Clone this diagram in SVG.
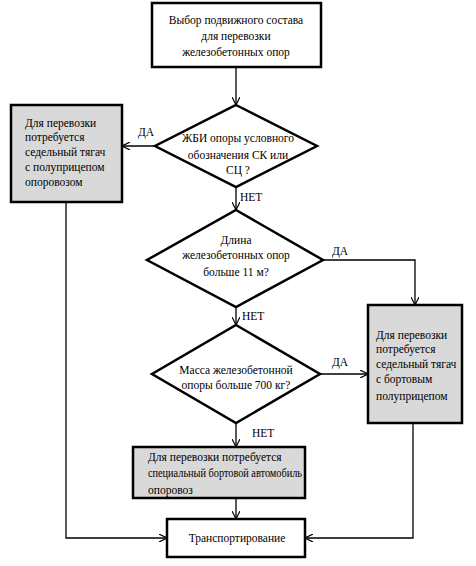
<svg xmlns="http://www.w3.org/2000/svg" width="476" height="566" viewBox="0 0 476 566">
<defs>
<marker id="arr" viewBox="0 0 10 10" refX="10" refY="5" markerWidth="8" markerHeight="8" markerUnits="userSpaceOnUse" orient="auto">
<path d="M0,0 L10,5 L0,10" fill="none" stroke="#000" stroke-width="1.5"/>
</marker>
<style>
.box{fill:#fff;stroke:#000;stroke-width:2.5}
.gray{fill:#d9d9d9;stroke:#000;stroke-width:2.5}
.dia{fill:#fff;stroke:#000;stroke-width:2.5}
.ln{fill:none;stroke:#000;stroke-width:1.3;marker-end:url(#arr)}
.c{text-anchor:middle}
</style>
</defs>
<rect width="476" height="566" fill="#fff"/>
<g font-family="'Liberation Serif', 'Times New Roman', serif" font-size="11.5" fill="#000">
<g id="connectors">
<path class="ln" d="M236,67 L236,105"/>
<path class="ln" d="M155,146 L122,146"/>
<path class="ln" d="M236,187 L236,210"/>
<path class="ln" d="M323,260 L415,260 L415,305"/>
<path class="ln" d="M236,307 L236,325"/>
<path class="ln" d="M320,374 L368,374"/>
<path class="ln" d="M236,423 L236,447"/>
<path class="ln" d="M236,498 L236,519"/>
<path class="ln" d="M66,202 L66,538 L167,538"/>
<path class="ln" d="M413,423 L413,538 L305,538"/>
<text x="138" y="136">ДА</text>
<text x="240" y="201">НЕТ</text>
<text x="332" y="255">ДА</text>
<text x="242" y="320">НЕТ</text>
<text x="332" y="366">ДА</text>
<text x="252" y="437">НЕТ</text>
</g>
<g id="start">
<rect class="box" x="152" y="3" width="169" height="64"/>
<text class="c" x="236" y="24">Выбор подвижного состава</text>
<text class="c" x="236" y="40">для перевозки</text>
<text class="c" x="236" y="56">железобетонных опор</text>
</g>
<g id="d1">
<polygon class="dia" points="236,105 317,146 236,187 155,146"/>
<text class="c" x="238" y="142">ЖБИ опоры условного</text>
<text class="c" x="238" y="159">обозначения СК или</text>
<text class="c" x="238" y="174">СЦ ?</text>
</g>
<g id="leftbox">
<rect class="gray" x="11" y="105" width="111" height="97"/>
<text x="25" y="127">Для перевозки</text>
<text x="25" y="141">потребуется</text>
<text x="25" y="156">седельный тягач</text>
<text x="25" y="171">с полуприцепом</text>
<text x="25" y="186">опоровозом</text>
</g>
<g id="d2">
<polygon class="dia" points="236,210 323,260 236,307 147,260"/>
<text class="c" x="236" y="244">Длина</text>
<text class="c" x="236" y="259">железобетонных опор</text>
<text class="c" x="236" y="276">больше 11 м?</text>
</g>
<g id="rightbox">
<rect class="gray" x="368" y="305" width="94" height="118"/>
<text x="376" y="339">Для перевозки</text>
<text x="376" y="353">потребуется</text>
<text x="376" y="368">седельный тягач</text>
<text x="376" y="383">с бортовым</text>
<text x="376" y="400">полуприцепом</text>
</g>
<g id="d3">
<polygon class="dia" points="236,325 320,374 236,423 152,374"/>
<text class="c" x="236" y="374">Масса железобетонной</text>
<text class="c" x="236" y="389">опоры больше 700 кг?</text>
</g>
<g id="bottombox">
<rect class="gray" x="133" y="447" width="172" height="51"/>
<text x="148" y="461">Для перевозки потребуется</text>
<text x="148" y="477" textLength="154" lengthAdjust="spacingAndGlyphs">специальный бортовой автомобиль</text>
<text x="148" y="494">опоровоз</text>
</g>
<g id="transport">
<rect class="box" x="167" y="519" width="138" height="38"/>
<text class="c" x="237" y="542">Транспортирование</text>
</g>
</g>
</svg>
